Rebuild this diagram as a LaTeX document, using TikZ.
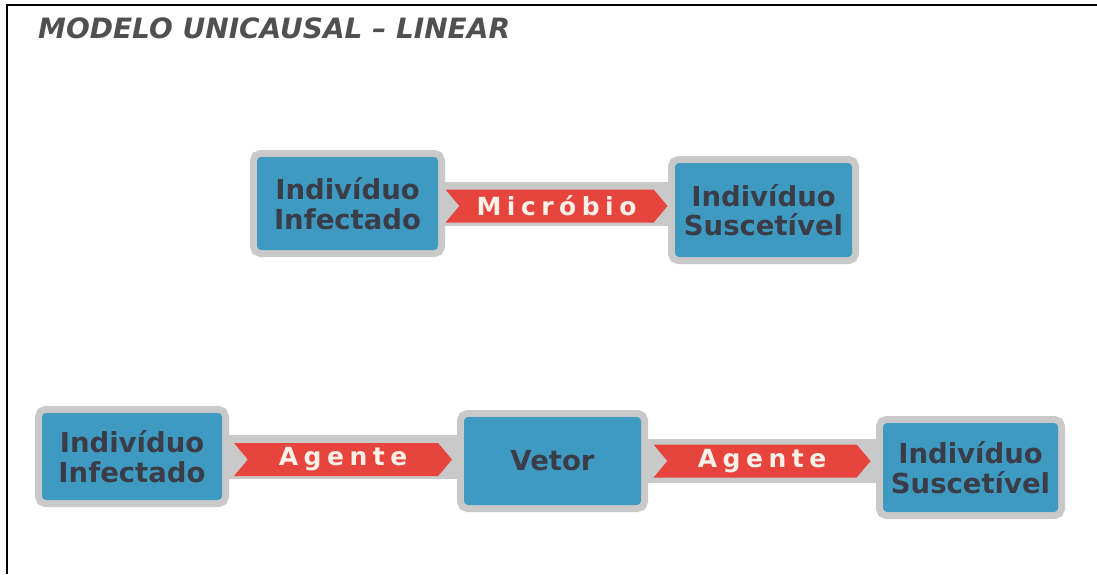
\documentclass[tikz,border=0pt]{standalone}
\usepackage{fontspec}
\setmainfont{DejaVu Sans}
\usetikzlibrary{shapes.symbols,backgrounds}
\definecolor{boxblue}{HTML}{3F9AC2}
\definecolor{halo}{HTML}{C9C9C9}
\definecolor{arrred}{HTML}{E8443E}
\definecolor{txtdark}{HTML}{3A3D48}
\definecolor{titlegray}{HTML}{505050}
\definecolor{cream}{HTML}{FBF1E8}
\tikzset{
  bluebox/.style={fill=boxblue, rounded corners=4pt, inner sep=0pt,
    preaction={draw=halo, line width=14pt, rounded corners=3pt},
    text=txtdark, font=\bfseries\fontsize{27.5}{29.5}\selectfont, align=center},
  band/.style={draw=halo, line width=44pt},
  arrsig/.style={shape=signal, signal to=east, signal from=west,
    signal pointer angle=100, fill=arrred, inner sep=0pt,
    minimum height=33pt, text=cream,
    font=\bfseries\fontsize{25}{27}\selectfont\addfontfeature{LetterSpace=22}},
  frameline/.style={line width=2.5pt, black}
}
\begin{document}
\begin{tikzpicture}[x=1pt, y=-1pt]
\useasboundingbox (0,0) rectangle (1097,574);
\draw[frameline] (1097,5) -- (7,5) -- (7,574);
\node[anchor=base west, text=titlegray, font=\bfseries\itshape\fontsize{28}{30}\selectfont, inner sep=0pt] (title) at (38,38) {MODELO UNICAUSAL – LINEAR};
% boxes
\node[bluebox, minimum width=181pt, minimum height=93pt] (a1) at (347.5,203.5) {Indivíduo\\Infectado};
\node[bluebox, minimum width=177pt, minimum height=94pt] (a2) at (763.5,210) {Indivíduo\\Suscetível};
\node[bluebox, minimum width=180pt, minimum height=87pt] (b1) at (132,456.5) {Indivíduo\\Infectado};
\node[bluebox, minimum width=177pt, minimum height=88pt] (b2) at (552.5,461) {Vetor};
\node[bluebox, minimum width=175pt, minimum height=89pt] (b3) at (970.5,467.5) {Indivíduo\\Suscetível};
% bands behind the boxes
\begin{pgfonlayer}{background}
\draw[band] (a1.east) -- (a1.east -| a2.west);
\draw[band] (b1.east) -- (b1.east -| b2.west);
\draw[band] (b2.east) -- (b2.east -| b3.west);
\end{pgfonlayer}
% red arrows (labels of the connections)
\path (a1.east) -- (a1.east -| a2.west) node[midway, arrsig, minimum width=222pt, yshift=-2.5pt] (m1) {Micróbio};
\path (b1.east) -- (b1.east -| b2.west) node[midway, arrsig, minimum width=218pt, yshift=-3pt] (g1) {Agente};
\path (b2.east) -- (b2.east -| b3.west) node[midway, arrsig, minimum width=217pt] (g2) {Agente};
\end{tikzpicture}
\end{document}
